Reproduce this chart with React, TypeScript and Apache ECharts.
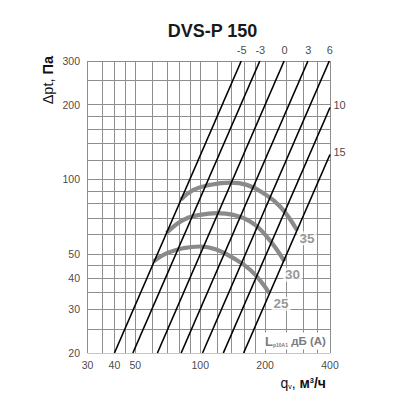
import React, { useEffect, useRef } from 'react';
import * as echarts from 'echarts';

const xRange = [30, 400];
const yRange = [20, 300];
const xGridValues = [30, 35, 40, 45, 50, 60, 70, 80, 90, 100, 120, 140, 160, 180, 200, 250, 300, 350, 400];
const yGridValues = [20, 25, 30, 35, 40, 45, 50, 60, 70, 80, 90, 100, 120, 140, 160, 180, 200, 250, 300];
const xTickLabels = [30, 40, 50, 100, 200, 400];
const yTickLabels = [20, 30, 40, 50, 100, 200, 300];

// black sound-correction lines: start at p = 20, end point
const levelNames = ['-5', '-3', '0', '3', '6', '10', '15'];
const levelStartQ = [40, 48.7, 63.3, 81.6, 102.5, 128, 159];
const levelEndQ = [155, 189, 245, 316, 397, 400, 400];
const levelEndP = [300, 300, 300, 300, 300, 195, 126];

// grey curves (Lp10A, dB(A))
const curveNames = ['35', '30', '25'];
const curve35 = [[81.5, 83], [93, 90.8], [111, 95.1], [137.6, 97.1], [164.5, 95.1], [196.4, 88], [234.7, 77.8], [281.4, 62.4]];
const curve30 = [[69.9, 61], [83.6, 68.8], [99.9, 72], [119.4, 73.2], [142.6, 72], [170.4, 67.7], [203.6, 58.9], [246, 46.8]];
const curve25 = [[60.8, 46.8], [70, 50.5], [83.6, 52.9], [99.9, 53.7], [119.4, 52.1], [142.6, 48.2], [170.4, 43.3], [196.4, 37.7], [208.7, 34.8]];
const curves = [curve35, curve30, curve25];
const curveLabelOffsets = [[10, 8], [8, 13.5], [12, 10.5]];

const FONT = '"Liberation Sans", Arial, Helvetica, sans-serif';
const TEXT_COLOR = '#111111';
const GRID_COLOR = '#8e8e8e';
const CURVE_COLOR = '#8a8a8a';
const CURVE_LABEL_COLOR = '#7c7c7c';

function buildOption() {
  const gridData = [
    ...xGridValues.map((v) => ({ coords: [[v, yRange[0]], [v, yRange[1]]] })),
    ...yGridValues.map((v) => ({ coords: [[xRange[0], v], [xRange[1], v]] })),
  ];

  const levelSeries = levelNames.map((n, i) => ({
    type: 'line',
    name: 'L' + n,
    data: [
      [levelStartQ[i], yRange[0]],
      [levelEndQ[i], levelEndP[i]],
    ],
    symbol: 'none',
    silent: true,
    z: 4,
    lineStyle: { color: '#000', width: 1.6 },
  }));

  const curveSeries = curves.map((c, i) => ({
    type: 'line',
    name: curveNames[i],
    data: c,
    smooth: 0.45,
    symbol: 'none',
    silent: true,
    z: 3,
    lineStyle: { color: CURVE_COLOR, width: 4.2, cap: 'butt' },
  }));

  const hidden = { color: 'rgba(0,0,0,0)' };
  const tickLabel = {
    show: true,
    fontSize: 10.5,
    fontFamily: FONT,
    color: TEXT_COLOR,
    textBorderWidth: 0,
  };

  return {
    animation: false,
    textStyle: { fontFamily: FONT },
    grid: { left: 87.5, right: 70, top: 61, bottom: 47 },
    xAxis: {
      type: 'log',
      logBase: 10,
      min: xRange[0],
      max: xRange[1],
      show: false,
    },
    yAxis: {
      type: 'log',
      logBase: 10,
      min: yRange[0],
      max: yRange[1],
      show: false,
    },
    graphic: [
      {
        type: 'text',
        x: 212.5,
        y: 31,
        style: {
          text: 'DVS-P 150',
          fontFamily: FONT,
          fontSize: 18,
          fontWeight: 'bold',
          fill: '#1a1a1a',
          textAlign: 'center',
          textVerticalAlign: 'middle',
        },
      },
      {
        type: 'text',
        x: 48,
        y: 56,
        rotation: Math.PI / 2,
        style: {
          text: '{n|Δpt, }{b|Па}',
          textAlign: 'right',
          textVerticalAlign: 'middle',
          fill: TEXT_COLOR,
          rich: {
            n: { fontFamily: FONT, fontSize: 14.5, fill: TEXT_COLOR },
            b: { fontFamily: FONT, fontSize: 14.5, fontWeight: 'bold', fill: TEXT_COLOR },
          },
        },
      },
      {
        type: 'text',
        x: 326,
        y: 383,
        style: {
          text: '{q|q}{s|v}{n|, }{b|м}{p|3}{b|/ч}',
          textAlign: 'right',
          textVerticalAlign: 'middle',
          fill: TEXT_COLOR,
          rich: {
            q: { fontFamily: FONT, fontSize: 14, fill: TEXT_COLOR },
            s: { fontFamily: FONT, fontSize: 7, fill: TEXT_COLOR, verticalAlign: 'bottom' },
            n: { fontFamily: FONT, fontSize: 14, fill: TEXT_COLOR },
            b: { fontFamily: FONT, fontSize: 14, fontWeight: 'bold', fill: TEXT_COLOR },
            p: { fontFamily: FONT, fontSize: 7.5, fontWeight: 'bold', fill: TEXT_COLOR, verticalAlign: 'top' },
          },
        },
      },
      {
        type: 'text',
        x: 263,
        y: 341,
        z: 10,
        style: {
          text: '{L|L}{s|p10A1}{b| дБ (А)}',
          textAlign: 'left',
          textVerticalAlign: 'middle',
          backgroundColor: '#fff',
          padding: [2, 2, 2, 2],
          fill: CURVE_LABEL_COLOR,
          rich: {
            L: { fontFamily: FONT, fontSize: 13, fontWeight: 'bold', fill: CURVE_LABEL_COLOR },
            s: { fontFamily: FONT, fontSize: 5, fontWeight: 'bold', fill: CURVE_LABEL_COLOR, verticalAlign: 'bottom' },
            b: { fontFamily: FONT, fontSize: 11.5, fontWeight: 'bold', fill: CURVE_LABEL_COLOR },
          },
        },
      },
    ],
    series: [
      {
        type: 'lines',
        coordinateSystem: 'cartesian2d',
        polyline: false,
        silent: true,
        z: 1,
        lineStyle: { color: GRID_COLOR, width: 1, opacity: 1 },
        data: gridData,
      },
      ...curveSeries,
      ...levelSeries,
      {
        type: 'scatter',
        name: 'xTicks',
        silent: true,
        clip: false,
        symbolSize: 1,
        itemStyle: hidden,
        z: 6,
        data: xTickLabels.map((v) => [v, yRange[0]]),
        label: {
          ...tickLabel,
          position: 'bottom',
          distance: 6,
          formatter: (p: any) => String(p.value[0]),
        },
      },
      {
        type: 'scatter',
        name: 'yTicks',
        silent: true,
        clip: false,
        symbolSize: 1,
        itemStyle: hidden,
        z: 6,
        data: yTickLabels.map((v) => [xRange[0], v]),
        label: {
          ...tickLabel,
          position: 'left',
          distance: 7,
          formatter: (p: any) => String(p.value[1]),
        },
      },
      {
        type: 'scatter',
        name: 'levelLabels',
        silent: true,
        clip: false,
        symbolSize: 1,
        itemStyle: hidden,
        z: 6,
        data: levelNames.map((n, i) => ({
          name: n,
          value: [levelEndQ[i], levelEndP[i]],
          label:
            levelEndP[i] >= yRange[1]
              ? { position: 'top', distance: 5, offset: [0.5, 0] }
              : { position: 'right', distance: 3, offset: [0, -2.5] },
        })),
        label: {
          ...tickLabel,
          fontSize: 11,
          formatter: (p: any) => p.name,
        },
      },
      {
        type: 'scatter',
        name: 'curveLabels',
        silent: true,
        clip: false,
        symbolSize: 1,
        itemStyle: hidden,
        z: 6,
        data: curves.map((c, i) => ({
          name: curveNames[i],
          value: c[c.length - 1],
          label: { offset: curveLabelOffsets[i] },
        })),
        label: {
          show: true,
          position: 'inside',
          fontSize: 13.5,
          fontWeight: 'bold',
          fontFamily: FONT,
          color: CURVE_LABEL_COLOR,
          backgroundColor: '#fff',
          padding: [0, 2, 0, 2],
          formatter: (p: any) => p.name,
        },
      },
    ],
  };
}

export default function App() {
  const ref = useRef<HTMLDivElement>(null);
  useEffect(() => {
    document.body.style.margin = '0';
    const chart = echarts.init(ref.current as HTMLDivElement, null, { renderer: 'svg' });
    chart.setOption(buildOption() as any);
    return () => chart.dispose();
  }, []);
  return <div ref={ref} style={{ width: 400, height: 400 }} />;
}
